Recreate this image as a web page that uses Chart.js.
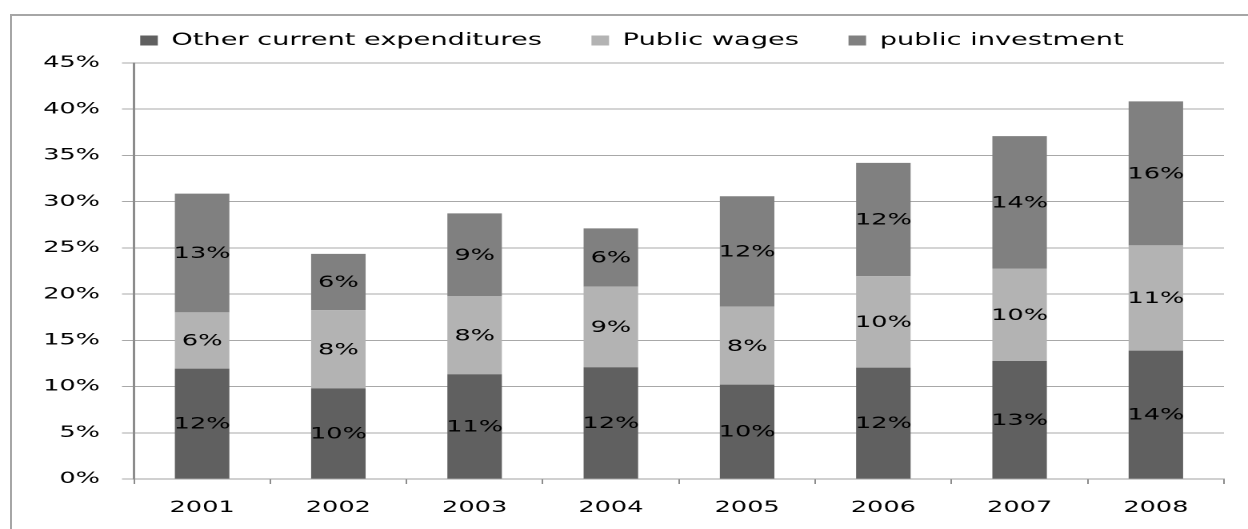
<!DOCTYPE html>
<html>
<head>
<meta charset="utf-8">
<script src="https://cdn.jsdelivr.net/npm/chart.js@4.4.0/dist/chart.umd.min.js"></script>
<style>
  html, body { margin: 0; padding: 0; background: #fff; overflow: hidden; }
  #frame { position: absolute; left: 10px; top: 14px; width: 1400px; height: 600px;
           border-top: 2px solid #a6a6a6; border-left: 2px solid #a6a6a6; }
  /* chart is drawn narrow and stretched sideways */
  #wrap { position: absolute; left: 0; top: 0; width: 780px; height: 529px;
          transform: scaleX(1.6); transform-origin: 0 0; }
</style>
</head>
<body>
<div id="frame"></div>
<div id="wrap"><canvas id="chart" width="780" height="529"></canvas></div>
<script>
// spending shares, % of GDP
const years = ['2001', '2002', '2003', '2004', '2005', '2006', '2007', '2008'];
const otherCurrent = [11.94, 9.8, 11.33, 12.09, 10.21, 12.05, 12.77, 13.89];
const publicWages = [6.08, 8.45, 8.47, 8.72, 8.43, 9.88, 10.0, 11.38];
const publicInvestment = [12.85, 6.1, 8.94, 6.3, 11.95, 12.27, 14.32, 15.58];
const yMax = 45;
const yStep = 5;

const tickFont = { family: 'DejaVu Sans', size: 16 };
const legendFont = { family: 'DejaVu Sans', size: 17 };

// value printed in the middle of every stacked segment
const segmentLabels = {
  id: 'segmentLabels',
  afterDatasetsDraw(chart) {
    const ctx = chart.ctx;
    ctx.save();
    ctx.font = '16px "DejaVu Sans"';
    ctx.fillStyle = '#000';
    ctx.textAlign = 'center';
    ctx.textBaseline = 'middle';
    chart.data.datasets.forEach((ds, i) => {
      chart.getDatasetMeta(i).data.forEach((bar, j) => {
        const p = bar.getCenterPoint();
        ctx.fillText(Math.round(ds.data[j]) + '%', p.x, p.y + 1);
      });
    });
    ctx.restore();
  }
};

// a bit more room under the legend row
const legendGap = {
  id: 'legendGap',
  beforeLayout(chart) {
    const legend = chart.legend;
    if (!legend || legend._gapped) return;
    const fit = legend.fit;
    legend.fit = function () {
      fit.call(this);
      this.height += 4;
    };
    legend._gapped = true;
  }
};

const chart = new Chart(document.getElementById('chart').getContext('2d'), {
  type: 'bar',
  data: {
    labels: years,
    datasets: [
      { label: 'Other current expenditures', data: otherCurrent, backgroundColor: '#606060' },
      { label: 'Public wages', data: publicWages, backgroundColor: '#b3b3b3' },
      { label: 'public investment', data: publicInvestment, backgroundColor: '#808080' }
    ]
  },
  options: {
    responsive: false,
    animation: false,
    devicePixelRatio: 2,
    datasets: {
      bar: { categoryPercentage: 1, barPercentage: 0.4 }
    },
    layout: { padding: { left: 25, right: 15, top: 1, bottom: 0 } },
    plugins: {
      legend: {
        position: 'top',
        labels: {
          boxWidth: 11,
          boxHeight: 10,
          padding: 31,
          color: '#000',
          font: legendFont
        }
      },
      tooltip: { enabled: false }
    },
    scales: {
      x: {
        stacked: true,
        grid: { offset: true, drawOnChartArea: false, tickLength: 5, color: '#8c8c8c' },
        border: { color: '#a0a0a0' },
        ticks: { color: '#000', font: tickFont, padding: 14, maxRotation: 0 },
        afterFit(scale) { scale.height = 50; }
      },
      y: {
        stacked: true,
        min: 0,
        max: yMax,
        grid: { color: '#a8a8a8', tickLength: 7.5, lineWidth: 1 },
        border: { color: '#8c8c8c', width: 1.5 },
        ticks: {
          stepSize: yStep,
          color: '#000',
          font: tickFont,
          padding: 13.75,
          callback: v => v + '%'
        },
        afterFit(scale) { scale.width = 58.75; }
      }
    }
  },
  plugins: [segmentLabels, legendGap]
});
</script>
</body>
</html>
